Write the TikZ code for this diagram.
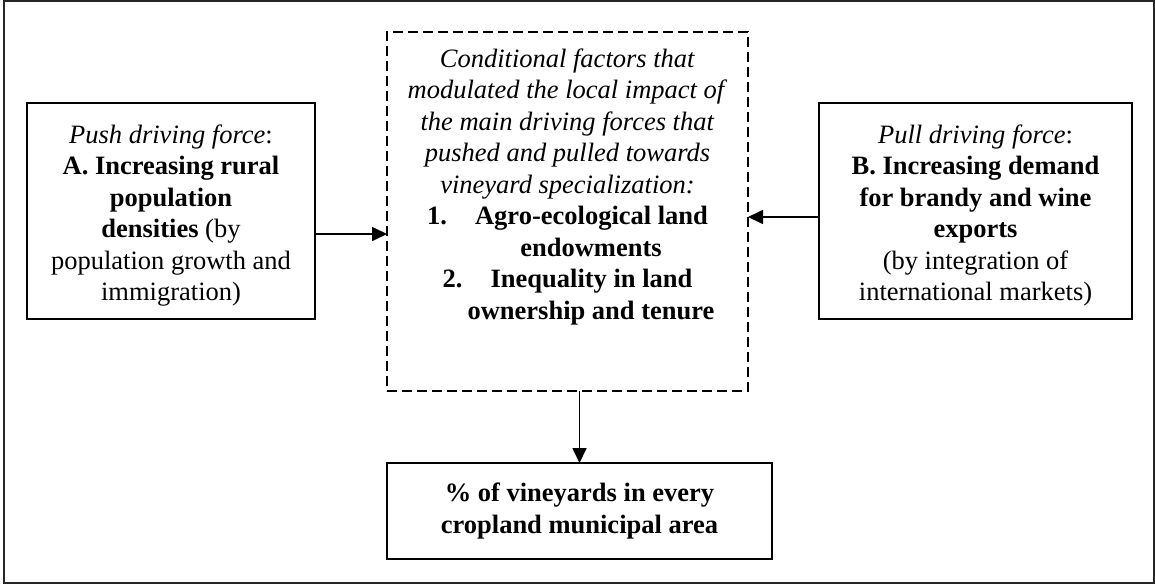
\documentclass[tikz,border=0pt]{standalone}
\usepackage{fontspec}
\setmainfont{Liberation Serif}
\usetikzlibrary{arrows.meta}
\newcommand\diagfont{\fontsize{26.5}{31.5}\selectfont}
\begin{document}
\begin{tikzpicture}[x=1pt,y=-1pt,
  box/.style={draw, line width=2pt, inner sep=0pt, outer sep=0pt, align=center, font=\diagfont},
  dbox/.style={draw, line width=1.7pt, dash pattern=on 10pt off 5pt, inner sep=0pt, outer sep=0pt},
  txt/.style={inner sep=0pt, outer sep=0pt, align=center, font=\diagfont},
  arr/.style={line width=1.7pt, -{Triangle[length=15pt,width=14pt]}}]
\useasboundingbox (0,0) rectangle (1155,584);
\draw[line width=2.2pt, black!85] (3.7,1.1) rectangle (1153.8,582.7);

\node[box, minimum width=288pt, minimum height=216pt] (push) at (171,211)
  {\rule{0pt}{27.3pt}\textit{Push driving force}:\\
   \textbf{A. Increasing rural}\\
   \textbf{population}\\
   \textbf{densities} (by\\
   population growth and\\
   immigration)};

\node[box, minimum width=313pt, minimum height=216pt] (pull) at (975.5,211)
  {\rule{0pt}{27.3pt}\textit{Pull driving force}:\\
   \textbf{B. Increasing demand}\\
   \textbf{for brandy and wine}\\
   \textbf{exports}\\
   (by integration of\\
   international markets)};

\node[dbox, minimum width=361pt, minimum height=359pt] (cond) at (567.5,211.5) {};
\node[txt, anchor=north] (condtxt) at (567.5,48.7)
  {\textit{Conditional factors that}\\
   \textit{modulated the local impact of}\\
   \textit{the main driving forces that}\\
   \textit{pushed and pulled towards}\\
   \textit{vineyard specialization:}\\
   \makebox[48pt][l]{\textbf{1.}}\textbf{Agro-ecological land}\\
   \hspace*{47pt}\textbf{endowments}\\
   \makebox[48pt][l]{\textbf{2.}}\textbf{Inequality in land}\\
   \hspace*{47pt}\textbf{ownership and tenure}};

\node[box, minimum width=385pt, minimum height=96pt] (out) at (579.5,511)
  {\textbf{\% of vineyards in every}\\
   \textbf{cropland municipal area}};

\draw[arr] (push.east |- 0,234) -- (cond.west |- 0,234);
\draw[arr] (pull.west |- 0,217) -- (cond.east |- 0,217);
\draw[arr] (cond.south -| out.north) -- (out.north);
\end{tikzpicture}
\end{document}
